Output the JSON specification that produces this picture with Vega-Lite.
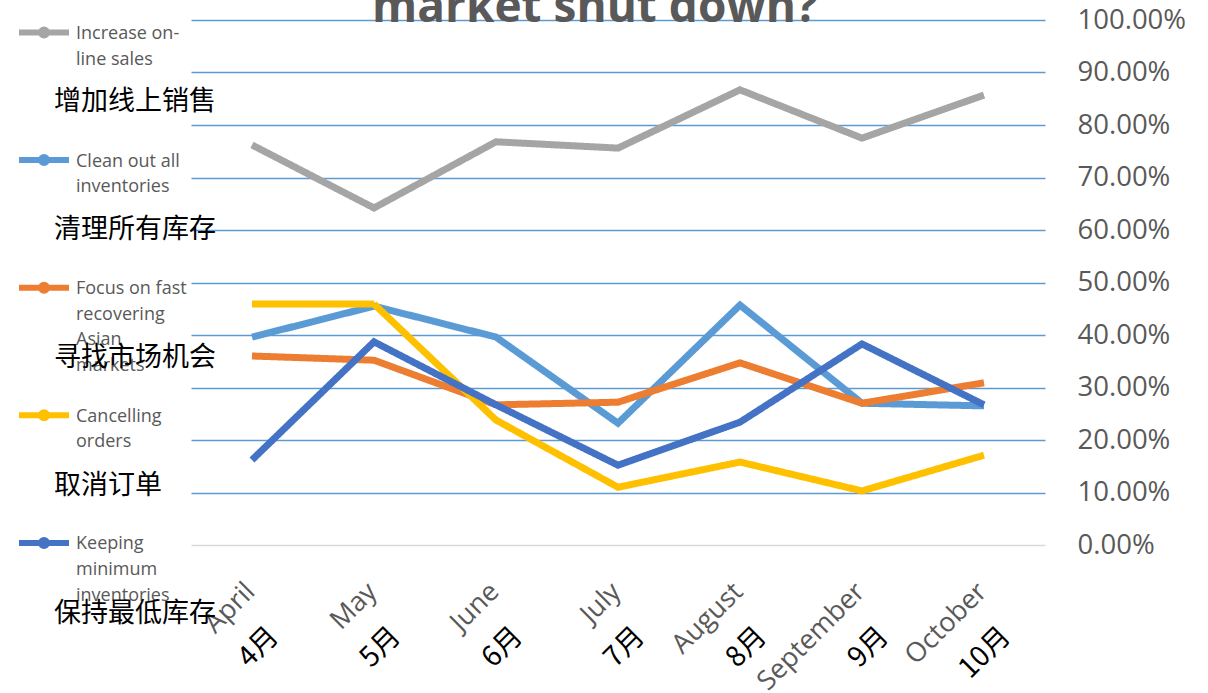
{
  "$schema": "https://vega.github.io/schema/vega-lite/v6.json",
  "width": 854,
  "height": 525,
  "autosize": {"type": "none"},
  "padding": {"left": 191, "top": 20, "right": 163, "bottom": 148},
  "background": "#ffffff",
  "title": {
    "text": "market shut down?",
    "font": "Open Sans",
    "fontSize": 46,
    "fontWeight": "bold",
    "color": "#595959",
    "anchor": "middle",
    "baseline": "alphabetic",
    "offset": -71,
    "dx": -23
  },
  "data": {
    "values": [
      {"month": "April", "cm": "4月", "series": "Increase on-line sales", "cn": "增加线上销售", "value": 0.762},
      {"month": "May", "cm": "5月", "series": "Increase on-line sales", "cn": "增加线上销售", "value": 0.642},
      {"month": "June", "cm": "6月", "series": "Increase on-line sales", "cn": "增加线上销售", "value": 0.768},
      {"month": "July", "cm": "7月", "series": "Increase on-line sales", "cn": "增加线上销售", "value": 0.756},
      {"month": "August", "cm": "8月", "series": "Increase on-line sales", "cn": "增加线上销售", "value": 0.867},
      {"month": "September", "cm": "9月", "series": "Increase on-line sales", "cn": "增加线上销售", "value": 0.775},
      {"month": "October", "cm": "10月", "series": "Increase on-line sales", "cn": "增加线上销售", "value": 0.857},
      {"month": "April", "cm": "4月", "series": "Clean out all inventories", "cn": "清理所有库存", "value": 0.396},
      {"month": "May", "cm": "5月", "series": "Clean out all inventories", "cn": "清理所有库存", "value": 0.455},
      {"month": "June", "cm": "6月", "series": "Clean out all inventories", "cn": "清理所有库存", "value": 0.396},
      {"month": "July", "cm": "7月", "series": "Clean out all inventories", "cn": "清理所有库存", "value": 0.232},
      {"month": "August", "cm": "8月", "series": "Clean out all inventories", "cn": "清理所有库存", "value": 0.457},
      {"month": "September", "cm": "9月", "series": "Clean out all inventories", "cn": "清理所有库存", "value": 0.270},
      {"month": "October", "cm": "10月", "series": "Clean out all inventories", "cn": "清理所有库存", "value": 0.265},
      {"month": "April", "cm": "4月", "series": "Focus on fast recovering Asian markets", "cn": "寻找市场机会", "value": 0.360},
      {"month": "May", "cm": "5月", "series": "Focus on fast recovering Asian markets", "cn": "寻找市场机会", "value": 0.352},
      {"month": "June", "cm": "6月", "series": "Focus on fast recovering Asian markets", "cn": "寻找市场机会", "value": 0.267},
      {"month": "July", "cm": "7月", "series": "Focus on fast recovering Asian markets", "cn": "寻找市场机会", "value": 0.272},
      {"month": "August", "cm": "8月", "series": "Focus on fast recovering Asian markets", "cn": "寻找市场机会", "value": 0.347},
      {"month": "September", "cm": "9月", "series": "Focus on fast recovering Asian markets", "cn": "寻找市场机会", "value": 0.270},
      {"month": "October", "cm": "10月", "series": "Focus on fast recovering Asian markets", "cn": "寻找市场机会", "value": 0.309},
      {"month": "April", "cm": "4月", "series": "Cancelling orders", "cn": "取消订单", "value": 0.459},
      {"month": "May", "cm": "5月", "series": "Cancelling orders", "cn": "取消订单", "value": 0.459},
      {"month": "June", "cm": "6月", "series": "Cancelling orders", "cn": "取消订单", "value": 0.238},
      {"month": "July", "cm": "7月", "series": "Cancelling orders", "cn": "取消订单", "value": 0.110},
      {"month": "August", "cm": "8月", "series": "Cancelling orders", "cn": "取消订单", "value": 0.158},
      {"month": "September", "cm": "9月", "series": "Cancelling orders", "cn": "取消订单", "value": 0.103},
      {"month": "October", "cm": "10月", "series": "Cancelling orders", "cn": "取消订单", "value": 0.171},
      {"month": "April", "cm": "4月", "series": "Keeping minimum inventories", "cn": "保持最低库存", "value": 0.162},
      {"month": "May", "cm": "5月", "series": "Keeping minimum inventories", "cn": "保持最低库存", "value": 0.387},
      {"month": "June", "cm": "6月", "series": "Keeping minimum inventories", "cn": "保持最低库存", "value": 0.267},
      {"month": "July", "cm": "7月", "series": "Keeping minimum inventories", "cn": "保持最低库存", "value": 0.152},
      {"month": "August", "cm": "8月", "series": "Keeping minimum inventories", "cn": "保持最低库存", "value": 0.234},
      {"month": "September", "cm": "9月", "series": "Keeping minimum inventories", "cn": "保持最低库存", "value": 0.383},
      {"month": "October", "cm": "10月", "series": "Keeping minimum inventories", "cn": "保持最低库存", "value": 0.267}
    ]
  },
  "layer": [
    {
      "mark": {"type": "point", "opacity": 0},
      "encoding": {
        "x": {
          "field": "cm",
          "type": "ordinal",
          "sort": ["4月", "5月", "6月", "7月", "8月", "9月", "10月"],
          "scale": {"type": "point", "padding": 0.5},
          "axis": {
            "orient": "bottom",
            "title": null,
            "labelAngle": -45,
            "labelFont": "Noto Sans CJK SC",
            "labelFontSize": 28,
            "labelColor": "#000000",
            "labelPadding": 77,
            "labelOffset": 12,
            "ticks": false,
            "domain": false,
            "grid": false
          }
        }
      }
    },
    {
      "mark": {"type": "line", "strokeWidth": 7, "strokeJoin": "miter", "strokeCap": "butt"},
      "encoding": {
        "x": {
          "field": "month",
          "type": "ordinal",
          "sort": ["April", "May", "June", "July", "August", "September", "October"],
          "scale": {"type": "point", "padding": 0.5},
          "axis": {
            "orient": "bottom",
            "title": null,
            "labelAngle": -45,
            "labelFont": "Open Sans",
            "labelFontSize": 27,
            "labelColor": "#595959",
            "labelPadding": 33,
            "labelOffset": -11,
            "ticks": false,
            "domain": true,
            "domainColor": "#d9d9d9",
            "domainWidth": 1.5,
            "grid": false
          }
        },
        "y": {
          "field": "value",
          "type": "quantitative",
          "scale": {"domain": [0, 1]},
          "axis": {
            "orient": "right",
            "title": null,
            "values": [0, 0.1, 0.2, 0.3, 0.4, 0.5, 0.6, 0.7, 0.8, 0.9, 1],
            "format": ".2%",
            "labelFont": "Open Sans",
            "labelFontSize": 27.5,
            "labelColor": "#595959",
            "labelPadding": 32,
            "ticks": false,
            "tickSize": 0,
            "domain": false,
            "grid": true,
            "gridColor": {"condition": {"test": "datum.value === 0", "value": "transparent"}, "value": "#5b9bd5"},
            "gridWidth": 1.5
          }
        },
        "color": {
          "field": "series",
          "type": "nominal",
          "scale": {
            "domain": ["Increase on-line sales", "Clean out all inventories", "Focus on fast recovering Asian markets", "Cancelling orders", "Keeping minimum inventories"],
            "range": ["#a5a5a5", "#5b9bd5", "#ed7d31", "#ffc000", "#4472c4"]
          },
          "legend": {
            "orient": "none",
            "legendX": -175,
            "legendY": -23,
            "title": null,
            "padding": 0,
            "rowPadding": 4.6,
            "symbolType": "M-1,0.3H1M-0.12,0.3A0.12,0.12 0 1,0 0.12,0.3A0.12,0.12 0 1,0 -0.12,0.3",
            "symbolSize": 2500,
            "symbolStrokeWidth": 6,
            "labelBaseline": "top",
            "labelFont": "Open Sans",
            "labelFontSize": 18,
            "labelColor": "#595959",
            "labelOffset": 4,
            "labelLimit": 300,
            "labelExpr": "datum.label == 'Increase on-line sales' ? ['Increase on-', 'line sales', '', ''] : datum.label == 'Clean out all inventories' ? ['Clean out all', 'inventories', '', ''] : datum.label == 'Focus on fast recovering Asian markets' ? ['Focus on fast', 'recovering', 'Asian', 'markets'] : datum.label == 'Cancelling orders' ? ['Cancelling', 'orders', '', ''] : ['Keeping', 'minimum', 'inventories', '']"
          }
        },
        "strokeDash": {
          "field": "cn",
          "type": "nominal",
          "scale": {
            "domain": ["增加线上销售", "清理所有库存", "寻找市场机会", "取消订单", "保持最低库存"],
            "range": [[1, 0], [1, 0], [1, 0], [1, 0], [1, 0]]
          },
          "legend": {
            "orient": "none",
            "legendX": -193,
            "legendY": 18,
            "title": null,
            "padding": 0,
            "rowPadding": 0,
            "symbolType": "M-1,0.3H1M-0.12,0.3A0.12,0.12 0 1,0 0.12,0.3A0.12,0.12 0 1,0 -0.12,0.3",
            "symbolSize": 2500,
            "symbolStrokeWidth": 0,
            "symbolOpacity": 0,
            "symbolStrokeColor": "transparent",
            "symbolFillColor": "transparent",
            "labelBaseline": "top",
            "labelFont": "Noto Sans CJK SC",
            "labelFontSize": 27,
            "labelColor": "#000000",
            "labelOffset": 6,
            "labelLimit": 400,
            "labelExpr": "(datum.label == '寻找市场机会' || datum.label == '保持最低库存' || datum.value == '寻找市场机会' || datum.value == '保持最低库存') ? ['\u00a0', '\u00a0', datum.label, '\u00a0'] : ['\u00a0', datum.label, '\u00a0', '\u00a0']"
          }
        }
      }
    }
  ],
  "resolve": {"scale": {"x": "independent"}, "axis": {"x": "independent"}},
  "config": {
    "view": {"stroke": null},
    "style": {"guide-label": {"lineHeight": 25.6}}
  }
}
